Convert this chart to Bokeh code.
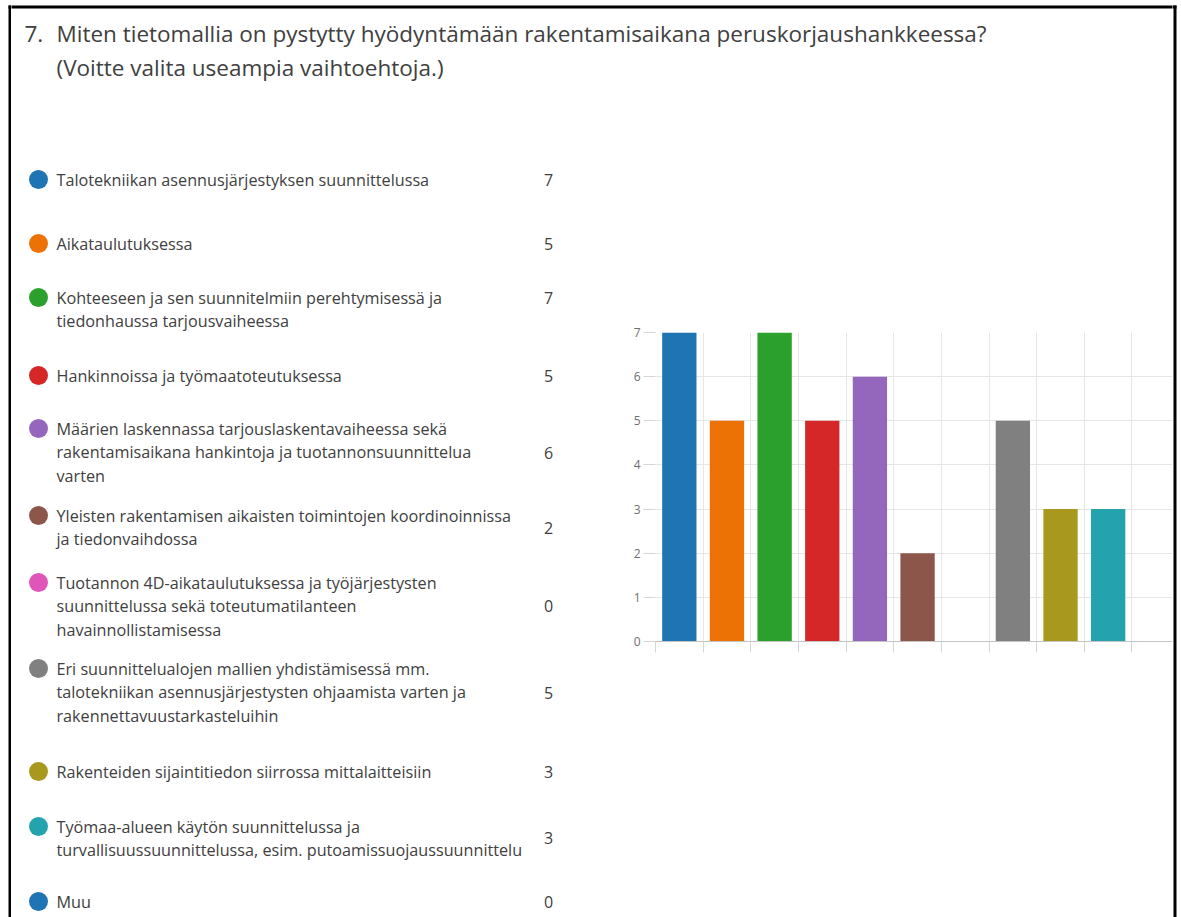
from bokeh.plotting import figure
from bokeh.layouts import column, row
from bokeh.models import Range1d, FixedTicker
from bokeh.core.properties import value
from bokeh.embed import file_html
from bokeh.resources import INLINE

# ---------------- data ----------------
title_number = "7."
title_line1 = "Miten tietomallia on pystytty hyödyntämään rakentamisaikana peruskorjaushankkeessa?"
title_line2 = "(Voitte valita useampia vaihtoehtoja.)"

options = [
    "Talotekniikan asennusjärjestyksen suunnittelussa",
    "Aikataulutuksessa",
    "Kohteeseen ja sen suunnitelmiin perehtymisessä ja\ntiedonhaussa tarjousvaiheessa",
    "Hankinnoissa ja työmaatoteutuksessa",
    "Määrien laskennassa tarjouslaskentavaiheessa sekä\nrakentamisaikana hankintoja ja tuotannonsuunnittelua\nvarten",
    "Yleisten rakentamisen aikaisten toimintojen koordinoinnissa\nja tiedonvaihdossa",
    "Tuotannon 4D-aikataulutuksessa ja työjärjestysten\nsuunnittelussa sekä toteutumatilanteen\nhavainnollistamisessa",
    "Eri suunnittelualojen mallien yhdistämisessä mm.\ntalotekniikan asennusjärjestysten ohjaamista varten ja\nrakennettavuustarkasteluihin",
    "Rakenteiden sijaintitiedon siirrossa mittalaitteisiin",
    "Työmaa-alueen käytön suunnittelussa ja\nturvallisuussuunnittelussa, esim. putoamissuojaussuunnittelu",
    "Muu",
]
counts = [7, 5, 7, 5, 6, 2, 0, 5, 3, 3, 0]
colors = ["#1f74b4", "#ec7206", "#2ca02c", "#d62728", "#9467bd", "#8c564b",
          "#e055b8", "#808080", "#a8991e", "#24a3ae", "#1f74b4"]
y_ticks = [0, 1, 2, 3, 4, 5, 6, 7]

# ---------------- layout constants (page pixels) ----------------
W, H = 1181, 917
TOP_H = 150
LS_W = 11          # left border strip
RS_W = 9           # right border strip
X_MAIN0 = LS_W
X_MAIN1 = W - RS_W
X_SPLIT = 620
row_first_y = [179, 243, 297, 375, 428, 515, 582, 668, 771, 826, 901]
count_y = [179, 243, 297, 375, 452, 527, 605, 692, 771, 837, 901]
LINE_GAP = 23.5
FONT = value("Open Sans")
TXT = "#404040"


def canvas(width, height, x0, x1, y0, y1):
    f = figure(width=width, height=height, x_range=Range1d(x0, x1), y_range=Range1d(y0, y1),
               output_backend="svg", toolbar_location=None,
               x_axis_location=None, y_axis_location=None,
               min_border=0, min_border_left=0, min_border_right=0,
               min_border_top=0, min_border_bottom=0, frame_align=False)
    f.grid.visible = False
    f.outline_line_color = None
    f.background_fill_color = "white"
    f.border_fill_color = "white"
    return f

# ---------- left border strip (full height) ----------
lstrip = canvas(LS_W, H, 0, LS_W, H, 0)
lstrip.quad(left=[8, 8], right=[11, LS_W + 1], top=[5, 5], bottom=[H + 1, 8],
            color="black", line_color=None)

# ---------- top (title) ----------
top = canvas(X_MAIN1 - X_MAIN0, TOP_H, X_MAIN0, X_MAIN1, TOP_H, 0)
top.quad(left=[X_MAIN0 - 1], right=[X_MAIN1 + 1], top=[5], bottom=[8],
         color="black", line_color=None)
top.text(x=[24], y=[33], text=[title_number], text_font=FONT, text_font_size="22.5px",
         text_color=TXT, text_baseline="middle")
top.text(x=[56, 56], y=[33, 67], text=[title_line1, title_line2], text_font=FONT,
         text_font_size="22.5px", text_color=TXT, text_baseline="middle")

# ---------- left (legend list) ----------
left = canvas(X_SPLIT - X_MAIN0, H - TOP_H, X_MAIN0, X_SPLIT, H, TOP_H)
left.scatter(x=[38] * len(options), y=row_first_y, size=19, color=colors, line_color=None)
lx, ly, lt = [], [], []
for opt, y0 in zip(options, row_first_y):
    for i, line in enumerate(opt.split("\n")):
        lx.append(56)
        ly.append(y0 + i * LINE_GAP)
        lt.append(line)
left.text(x=lx, y=ly, text=lt, text_font=FONT, text_font_size="16.2px",
          text_color=TXT, text_baseline="middle")
left.text(x=[548] * len(counts), y=count_y, text=[str(c) for c in counts], text_font=FONT,
          text_font_size="16px", text_color=TXT, text_baseline="middle", text_align="center")

# ---------- bar chart ----------
n = len(counts)
xs = [i + 0.5 for i in range(n)]
bar = figure(width=X_MAIN1 - X_SPLIT, height=H - TOP_H, x_range=Range1d(0, 10.85),
             y_range=Range1d(0, 7), output_backend="svg", toolbar_location=None,
             frame_align=False, min_border_left=35, min_border_right=0,
             min_border_top=182, min_border_bottom=276)
bar.outline_line_color = None
bar.background_fill_color = "white"
bar.border_fill_color = "white"
bar.vbar(x=xs, top=counts, width=0.72, color=colors, line_color=None)

bar.xaxis.ticker = FixedTicker(ticks=list(range(n + 1)))
bar.xaxis.major_label_overrides = {i: "" for i in range(n + 1)}
bar.xaxis.axis_line_color = "#c4c4c4"
bar.xaxis.major_tick_line_color = "#d6d6d6"
bar.xaxis.major_tick_out = 11
bar.xaxis.major_tick_in = 0
bar.xaxis.minor_tick_line_color = None

bar.yaxis.ticker = FixedTicker(ticks=y_ticks)
bar.yaxis.axis_line_color = None
bar.yaxis.major_tick_line_color = "#d6d6d6"
bar.yaxis.major_tick_out = 12
bar.yaxis.major_tick_in = 0
bar.yaxis.minor_tick_line_color = None
bar.yaxis.major_label_standoff = 3
bar.yaxis.major_label_text_font = "Open Sans"
bar.yaxis.major_label_text_font_size = "12px"
bar.yaxis.major_label_text_color = "#6e6e6e"

bar.xgrid.ticker = FixedTicker(ticks=list(range(n + 1)))
bar.ygrid.ticker = FixedTicker(ticks=y_ticks)
bar.grid.grid_line_color = "#e6e6e6"

# ---------- right border strip (full height) ----------
rstrip = canvas(RS_W, H, 0, RS_W, H, 0)
rstrip.quad(left=[-1, 1], right=[4, 4], top=[5, 5], bottom=[8, H + 1], color="black", line_color=None)

main = column(top, row(left, bar, spacing=0), spacing=0)
layout = row(lstrip, main, rstrip, spacing=0)

with open("out.html", "w") as fh:
    fh.write(file_html(layout, INLINE))
